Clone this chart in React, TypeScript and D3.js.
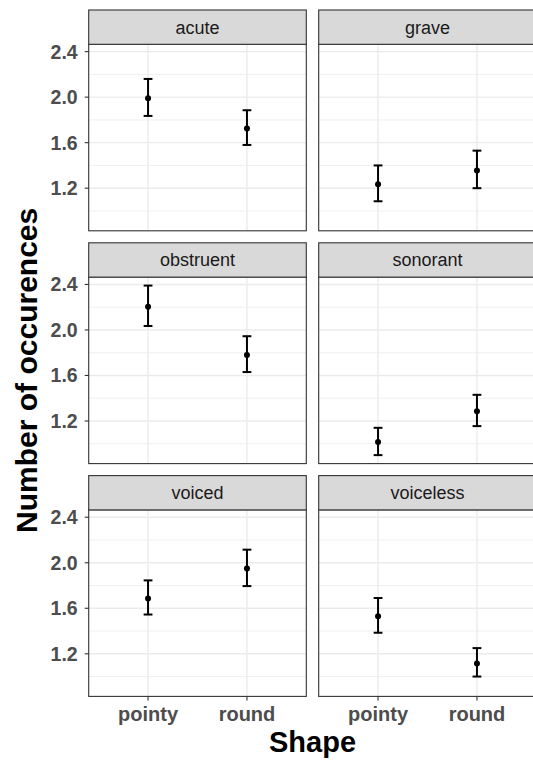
import React from "react";
import * as d3 from "d3";

const facets = ["acute", "grave", "obstruent", "sonorant", "voiced", "voiceless"];
const shapes = ["pointy", "round"];
const meanValues = [
  [1.99, 1.725],
  [1.235, 1.355],
  [2.205, 1.78],
  [1.015, 1.285],
  [1.685, 1.95],
  [1.53, 1.115],
];
const lowerValues = [
  [1.835, 1.58],
  [1.085, 1.2],
  [2.035, 1.63],
  [0.9, 1.155],
  [1.545, 1.795],
  [1.385, 1.0],
];
const upperValues = [
  [2.16, 1.885],
  [1.4, 1.53],
  [2.39, 1.945],
  [1.14, 1.43],
  [1.845, 2.115],
  [1.69, 1.25],
];
const majorTicks = [1.2, 1.6, 2.0, 2.4];
const minorTicks = [1.0, 1.4, 1.8, 2.2];
const yTitle = "Number of occurences";
const xTitle = "Shape";

const W = 533;
const H = 760;
const left0 = 88.7;
const panelW = 217.6;
const colGap = 12.4;
const top0 = 10;
const stripH = 34.3;
const panelH = 186.5;
const rowGap = 12;
const FONT = "'Liberation Sans', Arial, Helvetica, sans-serif";

export default function App() {
  const allVals = [...lowerValues.flat(), ...upperValues.flat(), ...meanValues.flat()];
  const lo = d3.min(allVals) as number;
  const hi = d3.max(allVals) as number;
  const pad = (hi - lo) * 0.05;

  const panels = facets.map((name, i) => {
    const col = i % 2;
    const row = Math.floor(i / 2);
    const x0 = left0 + col * (panelW + colGap);
    const sTop = top0 + row * (stripH + panelH + rowGap);
    const pTop = sTop + stripH;
    const pBot = pTop + panelH;
    const x = d3.scalePoint<string>().domain(shapes).range([x0, x0 + panelW]).padding(0.6);
    const y = d3.scaleLinear().domain([lo - pad, hi + pad]).range([pBot, pTop]);
    return { name, i, col, row, x0, sTop, pTop, pBot, x, y };
  });

  const nRows = 3;
  const lastBottom = panels[panels.length - 1].pBot;
  const yTitleCenter = (top0 + stripH + lastBottom) / 2;
  const xTitleCenter = (left0 + left0 + 2 * panelW + colGap) / 2;

  return (
    <svg width={W} height={H} style={{ position: "absolute", left: 0, top: 0, background: "#fff" }}>
      <rect x={0} y={0} width={W} height={H} fill="#fff" />
      {panels.map((p) => (
        <g key={p.name}>
          <rect x={p.x0} y={p.pTop} width={panelW} height={panelH} fill="#fff" />
          {minorTicks.map((t) => (
            <line key={"mn" + t} x1={p.x0} x2={p.x0 + panelW} y1={p.y(t)} y2={p.y(t)} stroke="#EBEBEB" strokeWidth={0.8} />
          ))}
          {majorTicks.map((t) => (
            <line key={"mj" + t} x1={p.x0} x2={p.x0 + panelW} y1={p.y(t)} y2={p.y(t)} stroke="#EBEBEB" strokeWidth={1.4} />
          ))}
          {shapes.map((s) => (
            <line key={"vx" + s} x1={p.x(s)} x2={p.x(s)} y1={p.pTop} y2={p.pBot} stroke="#EBEBEB" strokeWidth={1.4} />
          ))}
          {shapes.map((s, j) => {
            const cx = p.x(s) as number;
            const yl = p.y(lowerValues[p.i][j]);
            const yu = p.y(upperValues[p.i][j]);
            return (
              <g key={"eb" + s}>
                <line x1={cx} x2={cx} y1={yl} y2={yu} stroke="#000" strokeWidth={2} />
                <line x1={cx - 4.4} x2={cx + 4.4} y1={yl} y2={yl} stroke="#000" strokeWidth={2} />
                <line x1={cx - 4.4} x2={cx + 4.4} y1={yu} y2={yu} stroke="#000" strokeWidth={2} />
                <circle cx={cx} cy={p.y(meanValues[p.i][j])} r={3} fill="#000" />
              </g>
            );
          })}
          <rect x={p.x0} y={p.pTop} width={panelW} height={panelH} fill="none" stroke="#333333" strokeWidth={1.1} />
          <rect x={p.x0} y={p.sTop} width={panelW} height={stripH} fill="#D9D9D9" stroke="#333333" strokeWidth={1.1} />
          <text
            x={p.x0 + panelW / 2}
            y={p.sTop + stripH / 2 + 6.4}
            textAnchor="middle"
            fontFamily={FONT}
            fontSize={18}
            fill="#1A1A1A"
          >
            {p.name}
          </text>
          {p.col === 0 &&
            majorTicks.map((t) => (
              <g key={"yt" + t}>
                <line x1={p.x0 - 4} x2={p.x0} y1={p.y(t)} y2={p.y(t)} stroke="#333333" strokeWidth={1.1} />
                <text
                  x={p.x0 - 11}
                  y={p.y(t) + 7}
                  textAnchor="end"
                  fontFamily={FONT}
                  fontWeight="bold"
                  fontSize={19.5}
                  fill="#4D4D4D"
                >
                  {t.toFixed(1)}
                </text>
              </g>
            ))}
          {p.row === nRows - 1 &&
            shapes.map((s) => (
              <g key={"xt" + s}>
                <line x1={p.x(s)} x2={p.x(s)} y1={p.pBot} y2={p.pBot + 4} stroke="#333333" strokeWidth={1.1} />
                <text
                  x={p.x(s)}
                  y={p.pBot + 25}
                  textAnchor="middle"
                  fontFamily={FONT}
                  fontWeight="bold"
                  fontSize={20}
                  fill="#4D4D4D"
                >
                  {s}
                </text>
              </g>
            ))}
        </g>
      ))}
      <text
        transform={`translate(36.5, ${yTitleCenter}) rotate(-90)`}
        textAnchor="middle"
        fontFamily={FONT}
        fontWeight="bold"
        fontSize={30}
        fill="#000"
      >
        {yTitle}
      </text>
      <text
        x={xTitleCenter}
        y={752}
        textAnchor="middle"
        fontFamily={FONT}
        fontWeight="bold"
        fontSize={29}
        fill="#000"
      >
        {xTitle}
      </text>
    </svg>
  );
}
